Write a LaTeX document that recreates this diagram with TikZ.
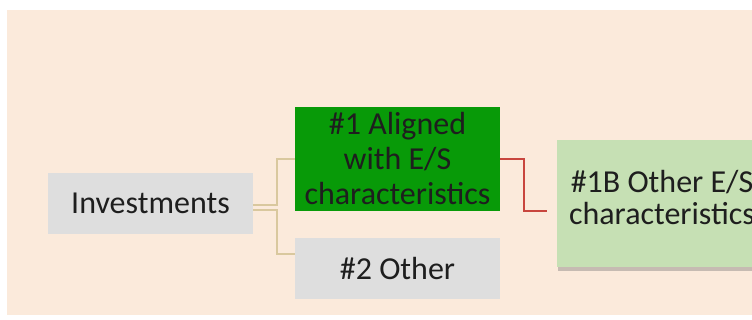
\documentclass[tikz,border=0pt]{standalone}
\usepackage{fontspec}
\setmainfont{Carlito}
\usetikzlibrary{calc,shadows}

\definecolor{bgbeige}{RGB}{251,234,219}
\definecolor{boxgray}{RGB}{222,222,222}
\definecolor{alignedgreen}{RGB}{8,154,8}
\definecolor{othergreen}{RGB}{198,224,180}
\definecolor{tanline}{RGB}{217,200,158}
\definecolor{redline}{RGB}{200,70,62}
\definecolor{textdark}{RGB}{30,30,30}

\tikzset{
  box/.style={fill=boxgray, text=textdark, inner sep=0pt, align=center,
    minimum width=205pt, minimum height=61pt,
    font=\fontsize{32}{35}\selectfont},
  tanlink/.style={tanline, line width=1.5pt},
  redlink/.style={redline, line width=2pt}
}

\begin{document}
\begin{tikzpicture}[x=1pt,y=-1pt]
% Page and background
\useasboundingbox (0,0) rectangle (752,320);
\clip (0,0) rectangle (752,320);
\fill [white] (0,0) rectangle (752,320);
\fill [bgbeige] (7,10) rectangle (752,315);

% Boxes
\node [box] (inv) at (150.5,203.5) {Investments};
\node [box, fill=alignedgreen, minimum height=104pt] (alig) at (397.5,159)
  {\#1 Aligned\\with E/S\\characteristics};
\node [box] (oth) at (397.5,268.5) {\#2 Other};
\node [box, fill=othergreen, minimum width=210pt, minimum height=127pt,
  font=\fontsize{32}{32}\selectfont, text depth=12pt,
  drop shadow={shadow xshift=1pt, shadow yshift=-4pt, fill=black!60, opacity=0.35}]
  (oes) at (662,203.5) {\#1B Other E/S\\characteristics};

% Tan connectors
\coordinate (othin) at ($(oth.west)+(0,-14.5)$);
\draw [tanlink] ($(inv.east)+(0,1.5)$) -- ++(24,0) |- (alig.west);
\draw [tanlink] ($(inv.east)+(0,6.5)$) -- ++(24,0) |- (othin);

% Red connector
\coordinate (oesin) at ($(oes.west)+(-10,7.5)$);
\draw [redlink] (alig.east) -- ++(24,0) |- (oesin);
\end{tikzpicture}
\end{document}
